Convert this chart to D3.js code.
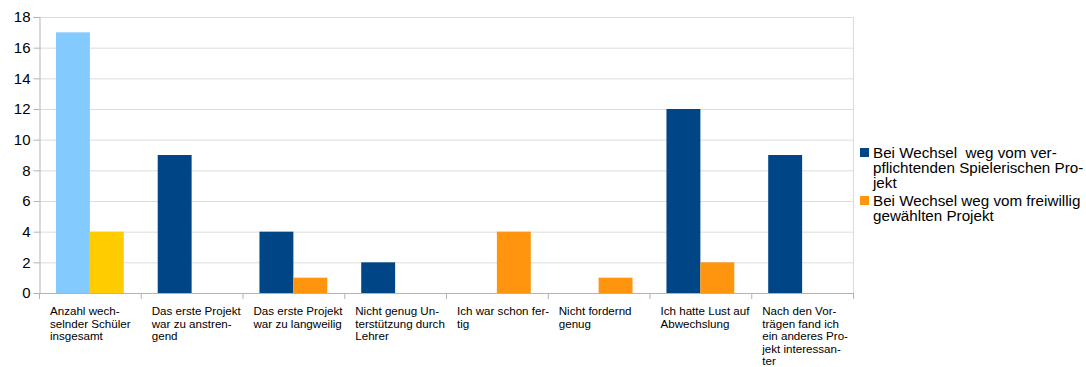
<!DOCTYPE html>
<html><head><meta charset="utf-8">
<script src="https://cdn.jsdelivr.net/npm/d3@7"></script>
<style>body{margin:0;background:#fff;}svg{display:block;font-family:"Liberation Sans",Arial,sans-serif;}</style>
</head><body>
<svg id="c" width="1086" height="367"></svg>
<script>
const categories = [
  ["Anzahl wech-","selnder Schüler","insgesamt"],
  ["Das erste Projekt","war zu anstren-","gend"],
  ["Das erste Projekt","war zu langweilig"],
  ["Nicht genug Un-","terstützung durch","Lehrer"],
  ["Ich war schon fer-","tig"],
  ["Nicht fordernd","genug"],
  ["Ich hatte Lust auf","Abwechslung"],
  ["Nach den Vor-","trägen fand ich","ein anderes Pro-","jekt interessan-","ter"]
];
const seriesNames = [
  ["Bei Wechsel  weg vom ver-","pflichtenden Spielerischen Pro-","jekt"],
  ["Bei Wechsel weg vom freiwillig","gewählten Projekt"]
];
const pflicht = [17, 9, 4, 2, 0, 0, 12, 9];
const freiwillig = [4, 0, 1, 0, 4, 1, 2, 0];
const yTicks = [0, 2, 4, 6, 8, 10, 12, 14, 16, 18];
const colors = ["#004586", "#ff950e"];
const firstColors = ["#83caff", "#ffcc00"];

const svg = d3.select("#c");
const m = {l:39, r:853, t:17, b:293};
const x = d3.scaleBand().domain(d3.range(categories.length)).range([m.l, m.r]).paddingInner(0).paddingOuter(0);
const x1 = d3.scaleBand().domain([0,1]).range([0, x.bandwidth()]).paddingOuter(0.5).paddingInner(0);
const y = d3.scaleLinear().domain([0, 18]).range([m.b, m.t]);

// gridlines
svg.append("g").selectAll("line").data(yTicks).join("line")
  .attr("x1", m.l).attr("x2", m.r).attr("y1", d=>y(d)+0.5).attr("y2", d=>y(d)+0.5)
  .attr("stroke", "#dcdcdc").attr("stroke-width", 1);
// right border
svg.append("line").attr("x1", m.r+0.5).attr("x2", m.r+0.5).attr("y1", m.t).attr("y2", m.b)
  .attr("stroke", "#dcdcdc");

// y axis
const yAxis = svg.append("g").attr("transform", `translate(${m.l+0.5},0)`)
  .call(d3.axisLeft(y).tickValues(yTicks).tickSize(6).tickPadding(3));
yAxis.select(".domain").attr("stroke", "#b3b3b3");
yAxis.selectAll(".tick line").attr("stroke", "#b3b3b3");
yAxis.selectAll("text").attr("font-size", "15px").attr("fill", "#000").attr("font-family", "Liberation Sans, Arial, sans-serif");

// bars
const series = [pflicht, freiwillig];
series.forEach((vals, s) => {
  svg.append("g").selectAll("rect").data(vals).join("rect")
    .attr("x", (d,i)=>x(i)+x1(s))
    .attr("width", x1.bandwidth())
    .attr("y", d=>y(d))
    .attr("height", d=>y(0)-y(d))
    .attr("fill", (d,i)=> i===0 ? firstColors[s] : colors[s]);
});

// x axis
const xg = svg.append("g");
xg.append("line").attr("x1", m.l).attr("x2", m.r).attr("y1", m.b+0.5).attr("y2", m.b+0.5).attr("stroke", "#b3b3b3");
xg.selectAll("line.t").data(d3.range(categories.length+1)).join("line").attr("class","t")
  .attr("x1", i=>(i<categories.length? x(i) : m.r)+0.5).attr("x2", i=>(i<categories.length? x(i) : m.r)+0.5)
  .attr("y1", m.b).attr("y2", m.b+6).attr("stroke", "#b3b3b3");
categories.forEach((lines, i) => {
  const t = xg.append("text").attr("x", x(i)+11).attr("y", 315).attr("font-size", "11.6px").attr("fill", "#000");
  lines.forEach((ln, k) => t.append("tspan").attr("x", x(i)+11).attr("dy", k===0?0:12.6).text(ln));
});

// legend
const lg = svg.append("g");
const legY = [152, 200];
seriesNames.forEach((lines, s) => {
  lg.append("rect").attr("x", 860).attr("y", legY[s]-4).attr("width", 9).attr("height", 9).attr("fill", colors[s]);
  const t = lg.append("text").attr("x", 873).attr("y", legY[s]+5.5).attr("font-size", "15.2px").attr("fill", "#000");
  lines.forEach((ln, k) => t.append("tspan").attr("x", 873).attr("dy", k===0?0:15.3).attr("xml:space","preserve").text(ln));
});
</script>
</body></html>
